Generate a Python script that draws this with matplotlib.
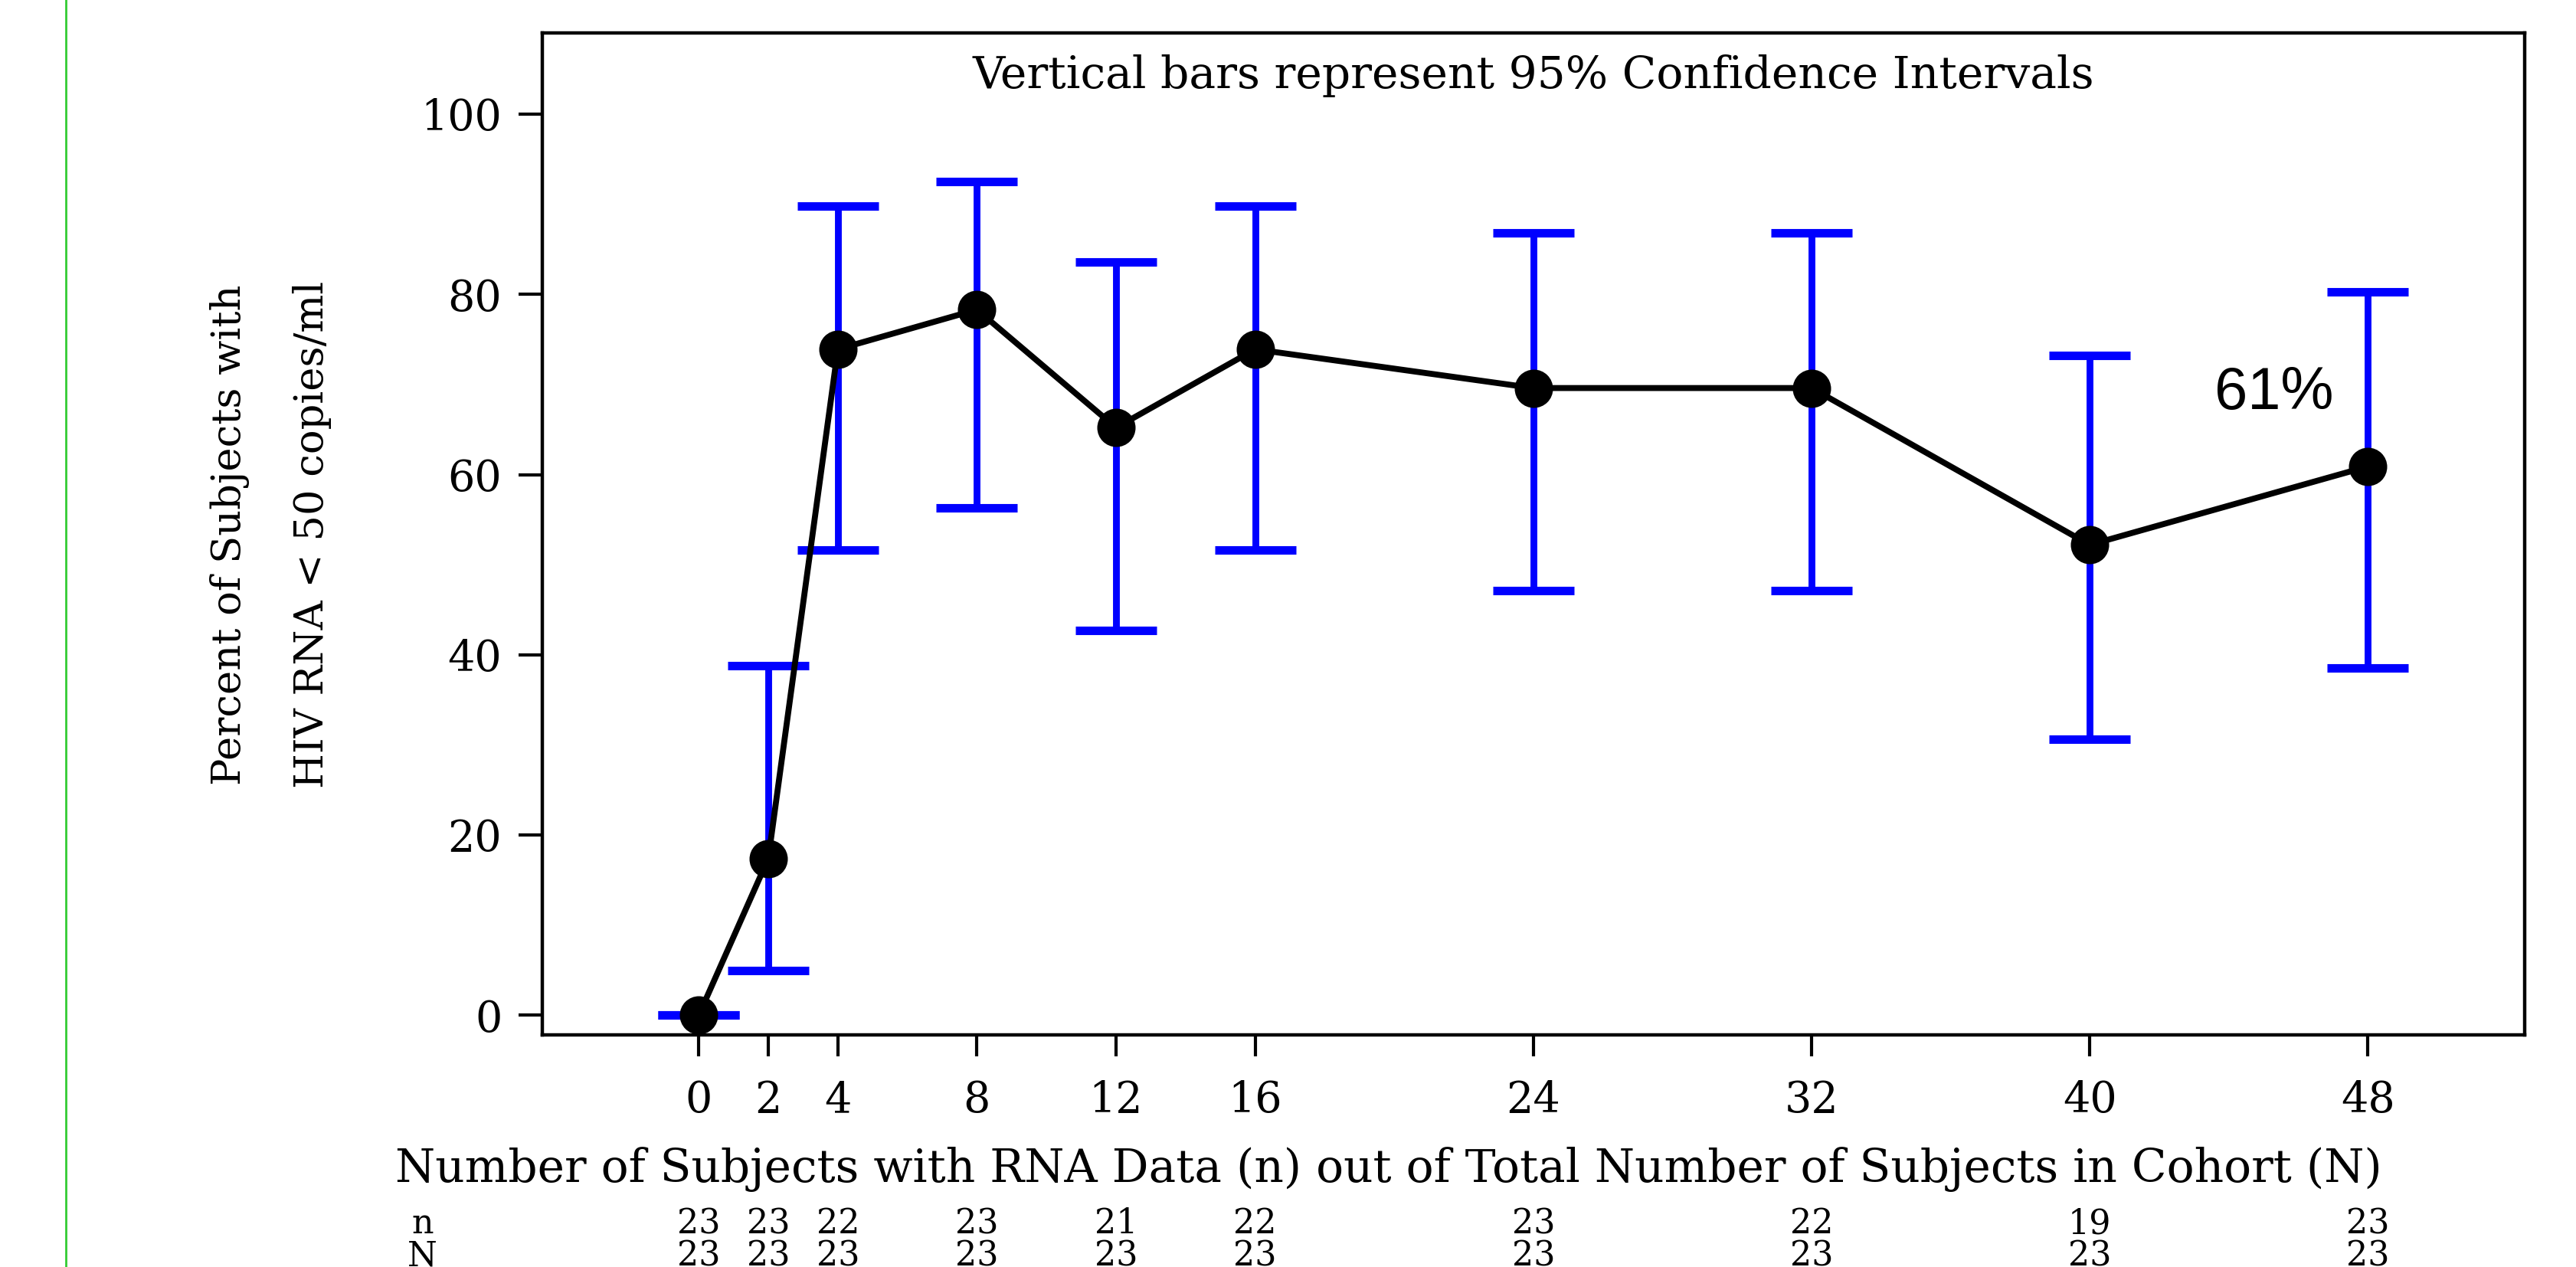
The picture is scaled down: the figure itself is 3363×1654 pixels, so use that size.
import numpy as np
import matplotlib
matplotlib.use('Agg')
import matplotlib.pyplot as plt
import matplotlib.transforms as mtransforms

# weeks on study
weeks = [0, 2, 4, 8, 12, 16, 24, 32, 40, 48]
# percent of subjects with HIV RNA < 50 copies/ml
pct = [0.0, 17.4, 73.9, 78.3, 65.2, 73.9, 69.6, 69.6, 52.2, 60.9]
# 95% confidence limits
ci_low = [0.0, 5.0, 51.6, 56.3, 42.7, 51.6, 47.1, 47.1, 30.6, 38.5]
ci_high = [0.0, 38.8, 89.8, 92.5, 83.6, 89.8, 86.8, 86.8, 73.2, 80.3]
# subjects with RNA data / total in cohort
n_data = [23, 23, 22, 23, 21, 22, 23, 22, 19, 23]
n_total = [23, 23, 23, 23, 23, 23, 23, 23, 23, 23]
y_ticks = [0, 20, 40, 60, 80, 100]


def main():
    plt.rcParams['font.family'] = ['DejaVu Serif']

    fig = plt.figure(figsize=(16.815, 8.27), dpi=200)
    ax = fig.add_axes([0.2105, 0.183, 0.7695, 0.791])

    # green rule at the far left of the page
    fig.add_artist(plt.Line2D([0.0255, 0.0255], [0, 1], transform=fig.transFigure,
                              color='#33cc33', linewidth=1.0))

    yerr = [np.array(pct) - np.array(ci_low), np.array(ci_high) - np.array(pct)]
    ax.errorbar(weeks, pct, yerr=yerr, fmt='none', ecolor='#0000ff', elinewidth=3.2,
                capsize=19, capthick=4, zorder=2)
    ax.plot(weeks, pct, color='black', linewidth=2.8, marker='o', markersize=17,
            zorder=3)

    ax.set_xlim(-4.5, 52.5)
    ax.set_ylim(-2.2, 109)
    ax.set_xticks(weeks)
    ax.set_xticklabels([str(w) for w in weeks], fontsize=20)
    ax.set_yticks(y_ticks)
    ax.set_yticklabels([str(t) for t in y_ticks], fontsize=20)
    ax.tick_params(axis='y', length=11, width=1.5, direction='out', pad=8)
    ax.tick_params(axis='x', length=10, width=1.5, direction='out', pad=11)
    for sp in ax.spines.values():
        sp.set_linewidth(1.6)

    ax.text(24, 104.2, 'Vertical bars represent 95% Confidence Intervals',
            ha='center', va='center', fontsize=21)
    ax.text(45.3, 69, '61%', ha='center', va='center', fontsize=28,
            family=['Liberation Sans', 'DejaVu Sans'])

    fig.text(0.0893, 0.578, 'Percent of Subjects with', rotation=90,
             ha='center', va='center', fontsize=19)
    fig.text(0.1212, 0.578, 'HIV RNA < 50 copies/ml', rotation=90,
             ha='center', va='center', fontsize=19)

    fig.text(0.539, 0.0768,
             'Number of Subjects with RNA Data (n) out of Total Number of Subjects in Cohort (N)',
             ha='center', va='center', fontsize=21.5)

    trans = mtransforms.blended_transform_factory(ax.transData, fig.transFigure)
    ax.text(-7.94, 0.034, 'n', transform=trans, ha='center', va='center', fontsize=16)
    ax.text(-7.94, 0.0085, 'N', transform=trans, ha='center', va='center', fontsize=16)
    for w, a, b in zip(weeks, n_data, n_total):
        ax.text(w, 0.034, str(a), transform=trans, ha='center', va='center', fontsize=16)
        ax.text(w, 0.0085, str(b), transform=trans, ha='center', va='center', fontsize=16)

    plt.savefig('out.png', dpi=200)


if __name__ == '__main__':
    main()
